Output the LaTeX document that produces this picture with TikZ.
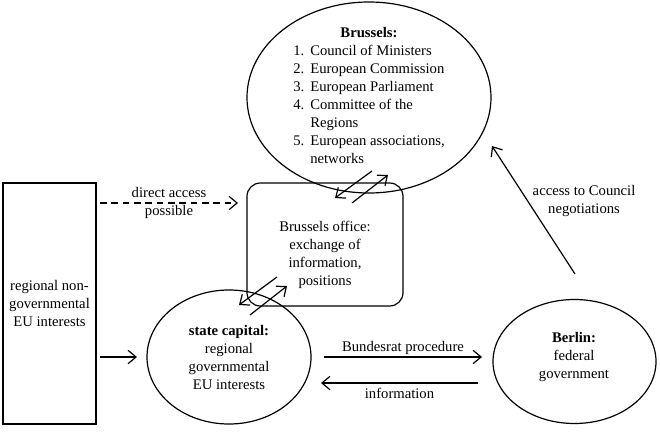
\documentclass[tikz,border=0pt]{standalone}
\usepackage{fontspec}
\setmainfont{Liberation Serif}
\usetikzlibrary{arrows.meta,shapes.geometric}

\begin{document}
\begin{tikzpicture}[x=0.75pt, y=-0.75pt, line width=0.9pt,
    every node/.style={font=\fontsize{11}{13.5}\selectfont},
    arr/.style={-{Straight Barb[length=6pt,width=10pt]}},
    oval/.style={draw, ellipse, inner sep=0pt},
    txt/.style={align=center, inner sep=0pt}]
  \useasboundingbox (0,0) rectangle (660,446);

  % Brussels
  \node[oval, minimum width=183pt, minimum height=143.25pt] (brussels) at (369,97.5) {};
  \node[inner sep=0pt] (brusselstxt) at (369,97) {%
    \begin{tabular}{@{}l@{\hspace{4.5pt}}l@{}}
      \multicolumn{2}{c}{\textbf{Brussels:}}\\
      1. & Council of Ministers\\
      2. & European Commission\\
      3. & European Parliament\\
      4. & Committee of the\\
         & Regions\\
      5. & European associations,\\
         & networks
    \end{tabular}};

  % Brussels office
  \node[draw, rounded corners=10pt, minimum width=117pt, minimum height=92.25pt] (office) at (325,244.5) {};
  \node[txt] (officetxt) at (325,255) {Brussels office:\\exchange of\\information,\\positions};

  % Regional actors
  \node[draw, txt, minimum width=69.75pt, minimum height=180.75pt] (regional) at (49.5,303.5)
    {regional non-\\governmental\\EU interests};
  \node[oval, txt, minimum width=123pt, minimum height=100.5pt] (state) at (229,357)
    {\textbf{state capital:}\\regional\\governmental\\EU interests};

  % Berlin
  \node[oval, minimum width=122.25pt, minimum height=93pt] (berlin) at (574.5,361.5) {};
  \node[txt] (berlintxt) at (574,356.5) {\textbf{Berlin:}\\federal\\government};

  % Arrow ends
  \coordinate (da) at (100,203);  \coordinate (db) at (238,203);
  \coordinate (ra) at (100,357);  \coordinate (rb) at (137,357);
  \coordinate (ba) at (324,357);  \coordinate (bb) at (482,357);
  \coordinate (ia) at (478,383);  \coordinate (ib) at (321,383);
  \coordinate (ca) at (575,274);  \coordinate (cb) at (492,146);
  \coordinate (bo1) at (372,171); \coordinate (bo2) at (335,198);
  \coordinate (bo3) at (352,203); \coordinate (bo4) at (388,175);
  \coordinate (so1) at (277,277); \coordinate (so2) at (239,305);
  \coordinate (so3) at (250,315); \coordinate (so4) at (287,286);

  % Arrows
  \draw[arr, dash pattern=on 5pt off 3.5pt] (da) -- node[txt] (directlbl) {direct access\\possible} (db);
  \draw[arr] (ra) -- (rb);
  \draw[arr] (ba) -- node[above, inner sep=1pt] (bundlbl) {Bundesrat procedure} (bb);
  \draw[arr] (ia) -- node[below] (infolbl) {information} (ib);
  \draw[arr] (ca) -- node[pos=0.57, anchor=west, align=center] (councillbl) {access to Council\\negotiations} (cb);

  % Exchange arrows
  \draw[arr] (bo1) -- (bo2);
  \draw[arr] (bo3) -- (bo4);
  \draw[arr] (so1) -- (so2);
  \draw[arr] (so3) -- (so4);
\end{tikzpicture}
\end{document}
